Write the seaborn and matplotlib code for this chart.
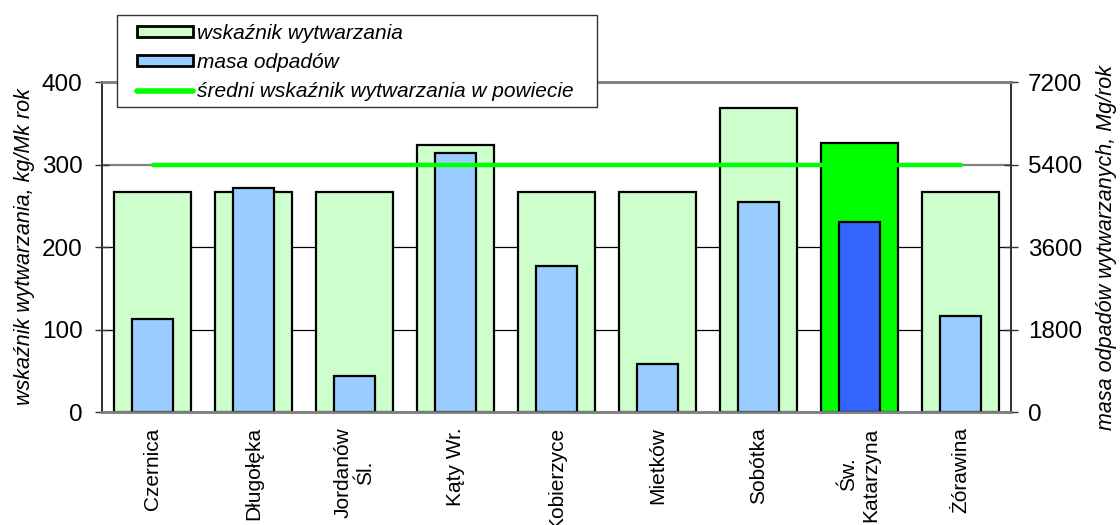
import numpy as np
import matplotlib
matplotlib.use("Agg")
import matplotlib.pyplot as plt
from matplotlib.patches import Patch, Rectangle
from matplotlib.lines import Line2D
import seaborn as sns

# data
gminy = ['Czernica', 'Długołęka', 'Jordanów\nŚl.', 'Kąty Wr.', 'Kobierzyce',
         'Mietków', 'Sobótka', 'Św.\nKatarzyna', 'Żórawina']
wskaznik = [267, 267, 267, 324, 267, 267, 369, 326, 267]        # kg/Mk rok
masa = [2035, 4885, 790, 5650, 3190, 1050, 4585, 4155, 2100]    # Mg/rok
srednia = 299                                                   # powiat average
wyrozniona = 'Św.\nKatarzyna'

left_ticks = [0, 100, 200, 300, 400]
right_ticks = [0, 1800, 3600, 5400, 7200]

sns.set_style('white')
plt.rcParams['font.family'] = ['Liberation Sans', 'DejaVu Sans']
plt.rcParams['text.color'] = 'black'
plt.rcParams['axes.labelcolor'] = 'black'
plt.rcParams['xtick.color'] = 'black'
plt.rcParams['ytick.color'] = 'black'

green_pal = {g: ('#00FF00' if g == wyrozniona else '#CCFFCC') for g in gminy}
blue_pal = {g: ('#3366FF' if g == wyrozniona else '#99CCFF') for g in gminy}

fig, ax = plt.subplots(figsize=(11.2, 5.25), dpi=100)
fig.subplots_adjust(left=0.0911, right=0.9027, top=0.8438, bottom=0.2152)

# gridlines behind the bars
ax.set_axisbelow(True)

# wskaźnik wytwarzania (left axis)
sns.barplot(x=gminy, y=wskaznik, hue=gminy, palette=green_pal, width=0.77,
            saturation=1, edgecolor='black', linewidth=1.6, legend=False, ax=ax)
ax.set_ylim(0, 400)
ax.set_yticks(left_ticks)

# masa odpadów (right axis)
ax2 = ax.twinx()
sns.barplot(x=gminy, y=masa, hue=gminy, palette=blue_pal, width=0.40,
            saturation=1, edgecolor='black', linewidth=1.6, legend=False, ax=ax2)
ax2.set_ylim(0, 7200)
ax2.set_yticks(right_ticks)

# average line on top of everything, same scale as left axis
ax3 = ax.twinx()
sns.lineplot(x=gminy, y=[srednia] * len(gminy), color='#00FF00', linewidth=3.2,
             solid_capstyle='round', ax=ax3)
ax3.set_ylim(0, 400)
ax3.axis('off')

# x ticks: marks at category borders, labels in the middle
ax.set_xlim(-0.5, len(gminy) - 0.5)
ax.set_xticks(np.arange(len(gminy) + 1) - 0.5, labels=[''] * (len(gminy) + 1))
ax.set_xticks(np.arange(len(gminy)), labels=gminy, minor=True)
ax.tick_params(axis='x', which='major', direction='out', length=6, width=1, color='#444444')
ax.tick_params(axis='x', which='minor', length=0, pad=11, labelsize=15, labelrotation=90)
ax.set_xlabel('')

ax.tick_params(axis='y', direction='inout', length=10, width=1, color='#333333',
               labelsize=17.5, pad=9, left=True)
ax2.tick_params(axis='y', direction='inout', length=10, width=1, color='#333333',
                labelsize=17.5, pad=7, right=True)

# grid: dark lines at 100/200, grey at 300
ax.yaxis.grid(True, color='black', linewidth=0.9)
ax.get_ygridlines()[3].set_color('#808080')
ax.get_ygridlines()[3].set_linewidth(1.6)

for a in (ax, ax2):
    a.spines['top'].set_color('#808080')
    a.spines['top'].set_linewidth(1.8)
    a.spines['bottom'].set_color('#808080')
    a.spines['bottom'].set_linewidth(1.8)
    a.spines['left'].set_color('#333333')
    a.spines['left'].set_linewidth(1.3)
    a.spines['right'].set_color('#333333')
    a.spines['right'].set_linewidth(1.3)

ax.set_ylabel('wskaźnik wytwarzania, kg/Mk rok', fontsize=15.5, style='italic', labelpad=5)
ax2.set_ylabel('masa odpadów wytwarzanych, Mg/rok', fontsize=15.5, style='italic', labelpad=10)

# legend: frame drawn separately so the entries can sit inside with a wider margin
W, H = 1120, 525
frame = Rectangle((117 / W, 1 - 107 / H), 480 / W, 92 / H, transform=fig.transFigure,
                  facecolor='white', edgecolor='#333333', linewidth=1.0, zorder=9)
fig.patches.append(frame)

handles = [
    Patch(facecolor='#CCFFCC', edgecolor='black', linewidth=2),
    Patch(facecolor='#99CCFF', edgecolor='black', linewidth=2),
    Line2D([0], [0], color='#00FF00', linewidth=4, solid_capstyle='round'),
]
labels = ['wskaźnik wytwarzania', 'masa odpadów', 'średni wskaźnik wytwarzania w powiecie']
leg = fig.legend(handles, labels, loc='upper left',
                 bbox_to_anchor=(137 / W, 1 - 24 / H),
                 borderaxespad=0, borderpad=0, labelspacing=0.49,
                 handlelength=2.7, handleheight=0.45, handletextpad=0.2,
                 frameon=False, prop={'size': 15, 'style': 'italic'})
leg.set_zorder(10)

fig.savefig('out.png', dpi=100)
